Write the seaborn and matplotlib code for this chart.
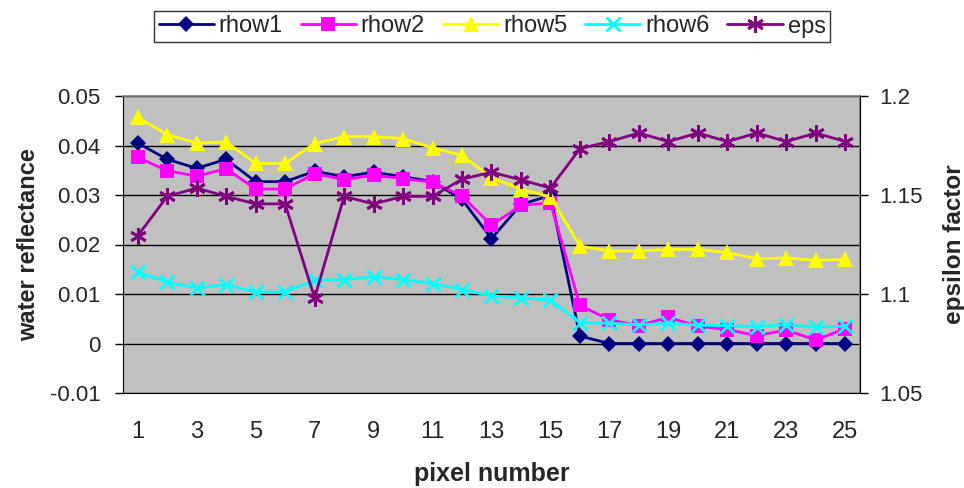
import numpy as np
import pandas as pd
import matplotlib
matplotlib.use("Agg")
import matplotlib.pyplot as plt
from matplotlib.lines import Line2D
import seaborn as sns

pixels = list(range(1, 26))
rhow1 = [0.0405, 0.0372, 0.0354, 0.0372, 0.0327, 0.0327, 0.0348, 0.0337, 0.0346, 0.0337,
         0.0327, 0.0291, 0.0212, 0.0281, 0.0299, 0.0015, 0.0, 0.0, 0.0, 0.0,
         0.0, 0.0, 0.0, 0.0, 0.0]
rhow2 = [0.0376, 0.0349, 0.0338, 0.0353, 0.0312, 0.0312, 0.0343, 0.0331, 0.0340, 0.0333,
         0.0326, 0.0298, 0.0239, 0.0279, 0.0284, 0.0077, 0.0048, 0.0036, 0.0053, 0.0035,
         0.0028, 0.0016, 0.0027, 0.0007, 0.0030]
rhow5 = [0.0457, 0.0422, 0.0405, 0.0407, 0.0364, 0.0364, 0.0404, 0.0418, 0.0418, 0.0414,
         0.0395, 0.0380, 0.0335, 0.0312, 0.0296, 0.0197, 0.0187, 0.0187, 0.0190, 0.0190,
         0.0184, 0.0171, 0.0173, 0.0168, 0.0170]
rhow6 = [0.0144, 0.0124, 0.0112, 0.0119, 0.0104, 0.0104, 0.0128, 0.0129, 0.0135, 0.0129,
         0.0121, 0.0109, 0.0096, 0.0092, 0.0088, 0.0042, 0.0041, 0.0038, 0.0041, 0.0037,
         0.0036, 0.0034, 0.0038, 0.0033, 0.0035]
eps = [1.1294, 1.1493, 1.1535, 1.1493, 1.1455, 1.1455, 1.0980, 1.1493, 1.1455, 1.1493,
       1.1493, 1.1580, 1.1615, 1.1577, 1.1535, 1.1734, 1.1770, 1.1813, 1.1770, 1.1813,
       1.1770, 1.1813, 1.1770, 1.1813, 1.1770]
series_names = ["rhow1", "rhow2", "rhow5", "rhow6", "eps"]
left_ticks = [-0.01, 0, 0.01, 0.02, 0.03, 0.04, 0.05]
left_ticklabels = ["-0.01", "0", "0.01", "0.02", "0.03", "0.04", "0.05"]
right_ticks = [1.05, 1.1, 1.15, 1.2]
right_ticklabels = ["1.05", "1.1", "1.15", "1.2"]
x_ticklabels = [str(p) for p in pixels if p % 2 == 1]

sns.set_style("white")
plt.rcParams['font.family'] = ['Liberation Sans', 'DejaVu Sans']

fig = plt.figure(figsize=(9.64, 4.88), dpi=100)
ax = fig.add_axes([123/964, 1-393/488, (860-123)/964, (393-96)/488])
ax.set_facecolor("#C0C0C0")
ax2 = ax.twinx()

df = pd.DataFrame({"pixel": pixels, "rhow1": rhow1, "rhow2": rhow2,
                   "rhow5": rhow5, "rhow6": rhow6, "eps": eps})

styles = {
    "rhow1": dict(color="#000080", marker="D", ms=8.5, mew=0),
    "rhow2": dict(color="#FF00FF", marker="s", ms=9.5, mew=0),
    "rhow5": dict(color="#FFFF00", marker="^", ms=11, mew=0),
    "rhow6": dict(color="#00FFFF", marker="x", ms=10, mew=2),
    "eps": dict(color="#800080", marker=(6, 2, 0), ms=12, mew=2),
}

for name in ["rhow1", "rhow2", "rhow5", "rhow6"]:
    st = styles[name]
    sns.lineplot(data=df, x="pixel", y=name, ax=ax, color=st["color"], marker=st["marker"],
                 markersize=st["ms"], markeredgewidth=st["mew"], markeredgecolor=st["color"],
                 linewidth=2, legend=False, zorder=3)
st = styles["eps"]
sns.lineplot(data=df, x="pixel", y="eps", ax=ax2, color=st["color"], marker=st["marker"],
             markersize=st["ms"], markeredgewidth=st["mew"], markeredgecolor=st["color"],
             linewidth=2, legend=False, zorder=3)

ax.set_xlim(0.5, 25.5)
ax.set_ylim(-0.01, 0.05)
ax2.set_ylim(1.05, 1.2)
ax.set_yticks(left_ticks)
ax.set_yticklabels(left_ticklabels, fontsize=16)
ax2.set_yticks(right_ticks)
ax2.set_yticklabels(right_ticklabels, fontsize=16)
ax.set_xticks([p for p in pixels if p % 2 == 1])
ax.set_xticklabels(x_ticklabels, fontsize=17)
ax.set_xticks(np.arange(0.5, 26, 1), minor=True)
ax.tick_params(axis="x", which="major", length=0, pad=20)
ax.tick_params(axis="x", which="minor", length=6, width=1, color="black", direction="out")
ax.tick_params(axis="y", length=6, width=1, color="black", direction="out", pad=10)
ax2.tick_params(axis="y", length=6, width=1, color="black", direction="out", pad=8)

ax.yaxis.grid(True, color="black", linewidth=1)
ax.set_axisbelow(True)
for sp in ["top", "right"]:
    ax.spines[sp].set_color("#808080")
    ax.spines[sp].set_linewidth(1.2)
ax.spines["left"].set_color("black")
ax.spines["bottom"].set_color("black")
for sp in ax2.spines.values():
    sp.set_visible(False)
ax2.spines["right"].set_visible(True)
ax2.spines["right"].set_color("black")

ax.set_xlabel("pixel number", fontsize=18, fontweight="bold", labelpad=14)
ax.set_ylabel("water reflectance", fontsize=17, fontweight="bold")
ax.yaxis.set_label_coords(-0.113, 0.5)
ax2.set_ylabel("epsilon factor", fontsize=17.5, fontweight="bold")
ax2.yaxis.set_label_coords(1.112, 0.5)

handles = []
for name in series_names:
    st = styles[name]
    handles.append(Line2D([0], [0], color=st["color"], marker=st["marker"], markersize=st["ms"],
                          markeredgewidth=st["mew"], markeredgecolor=st["color"], linewidth=2))
leg = fig.legend(handles, series_names, loc="center", bbox_to_anchor=(492/964, 1-26.5/488),
                 ncol=5, fontsize=17, frameon=True, fancybox=False, handlelength=2.35,
                 handletextpad=0.2, columnspacing=0.75, borderpad=0.2)
leg.get_frame().set_edgecolor("black")
leg.get_frame().set_linewidth(1)

fig.savefig("out.png", dpi=100)
